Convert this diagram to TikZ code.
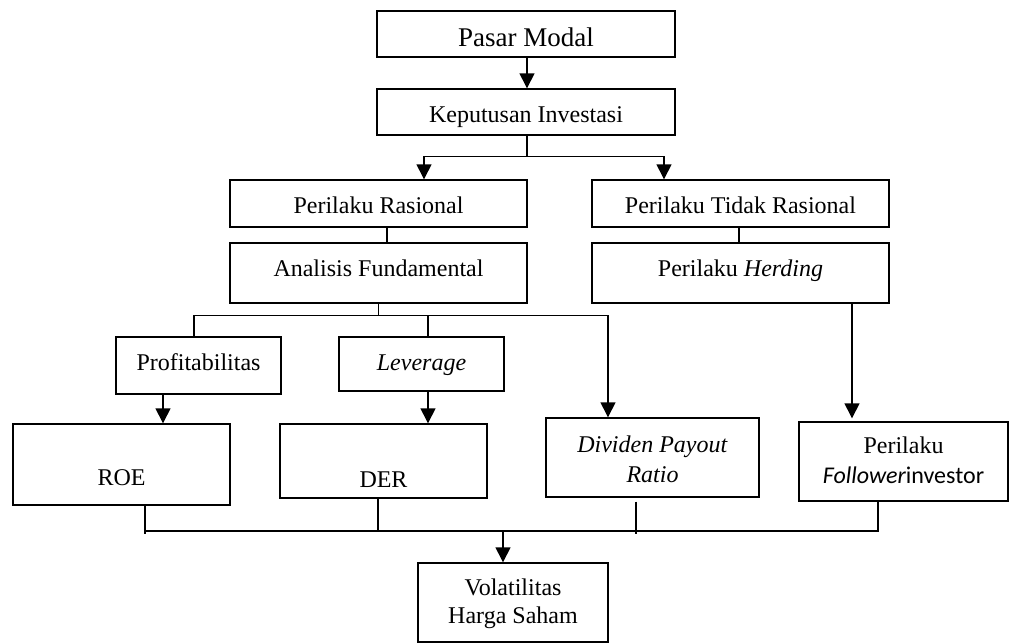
\documentclass[tikz,border=0pt]{standalone}
\usepackage{fontspec}
\setmainfont{Liberation Serif}
\newfontfamily\calibri{Carlito}
\usetikzlibrary{arrows.meta}
\newcommand\tx[2]{\raisebox{#1}[0pt][0pt]{#2}}
\newcommand\two[2]{\begin{tabular}[t]{@{}c@{}}#1\\#2\end{tabular}}
\begin{document}
\begin{tikzpicture}[x=1pt,y=-1pt,
  bx/.style={draw, line width=1.4pt, inner sep=0pt, font=\fontsize{24}{30}\selectfont},
  ln/.style={line width=1.4pt},
  arr/.style={line width=1.4pt, -{Triangle[width=15pt,length=15pt]}}]
\useasboundingbox (0,0) rectangle (1010,643);
% boxes
\node[bx, minimum width=298pt, minimum height=46pt, font=\fontsize{27}{32}\selectfont] (pm) at (526,34) {\tx{-12.7pt}{Pasar Modal}};
\node[bx, minimum width=298pt, minimum height=46pt] (ki) at (526,112) {\tx{-10.3pt}{Keputusan Investasi}};
\node[bx, minimum width=297pt, minimum height=47pt] (pr) at (378.5,203.5) {\tx{-9.8pt}{Perilaku Rasional}};
\node[bx, minimum width=297pt, minimum height=60pt] (af) at (378.5,273) {\tx{-3pt}{Analisis Fundamental}};
\node[bx, minimum width=297pt, minimum height=47pt] (ptr) at (740.5,203.5) {\tx{-9.8pt}{Perilaku Tidak Rasional}};
\node[bx, minimum width=297pt, minimum height=60pt] (ph) at (740.5,273) {\tx{-3pt}{Perilaku \textit{Herding}}};
\node[bx, minimum width=165pt, minimum height=57pt] (prof) at (198.5,365.5) {\tx{-4.5pt}{Profitabilitas}};
\node[bx, minimum width=165pt, minimum height=54pt] (lev) at (421.5,364) {\tx{-6pt}{\textit{Leverage}}};
\node[bx, minimum width=217pt, minimum height=81pt] (roe) at (121.5,464.5) {\tx{-20.5pt}{ROE}};
\node[bx, minimum width=207pt, minimum height=74pt] (der) at (383.5,461) {\tx{-26pt}{DER}};
\node[bx, minimum width=213pt, minimum height=79pt] (dpr) at (652.5,457.5) {\tx{5.5pt}{\two{\textit{Dividen Payout}}{\textit{Ratio}}}};
\node[bx, minimum width=209pt, minimum height=79pt] (pfi) at (903.5,461.5) {\tx{8.5pt}{\two{Perilaku}{{\calibri\itshape Follower}{\calibri investor}}}};
\node[bx, minimum width=190pt, minimum height=79pt, font=\fontsize{24}{28}\selectfont] (vol) at (513,602.5) {\tx{7.5pt}{\two{Volatilitas}{Harga Saham}}};
% connectors
\draw[arr] ([xshift=1pt]pm.south) -- ([xshift=1pt]ki.north);
\draw[ln] ([xshift=1pt]ki.south) -- ++(0,21) coordinate (j1);
\draw[arr] (j1) -| ([xshift=45.5pt]pr.north);
\draw[arr] (j1) -| ([xshift=-76.5pt]ptr.north);
\draw[ln] ([xshift=8.5pt]pr.south) -- ([xshift=8.5pt]af.north);
\draw[ln] ([xshift=-1.5pt]ptr.south) -- ([xshift=-1.5pt]ph.north);
\draw[arr] ([xshift=111.5pt]ph.south) -- ([xshift=-51.5pt, yshift=3pt]pfi.north);
\draw[ln] (af.south) -- ++(0,12) coordinate (j2);
\draw[ln] ([xshift=-4.5pt]prof.north) |- (j2);
\draw[arr] (j2) -| ([xshift=-44.5pt]dpr.north);
\draw[ln] ([xshift=6.5pt]lev.north) -- ([xshift=6.5pt]lev.north |- j2);
\draw[arr] ([xshift=-35.5pt]prof.south) -- ([xshift=-35.5pt]prof.south |- roe.north);
\draw[arr] ([xshift=6.5pt]lev.south) -- ([xshift=6.5pt]lev.south |- der.north);
% bottom
\coordinate (j3) at (503,531);
\draw[ln] ([xshift=23.5pt]roe.south) -- ++(0,28);
\draw[ln] ([xshift=23.5pt]roe.south |- j3) -| ([xshift=-25.5pt]pfi.south);
\draw[ln] ([xshift=-5.5pt]der.south) -- ([xshift=-5.5pt]der.south |- j3);
\draw[ln] ([xshift=-16.5pt, yshift=-4pt]dpr.south) -- ++(0,32);
\draw[arr] (j3) -- ([xshift=-10pt]vol.north);
\end{tikzpicture}
\end{document}
